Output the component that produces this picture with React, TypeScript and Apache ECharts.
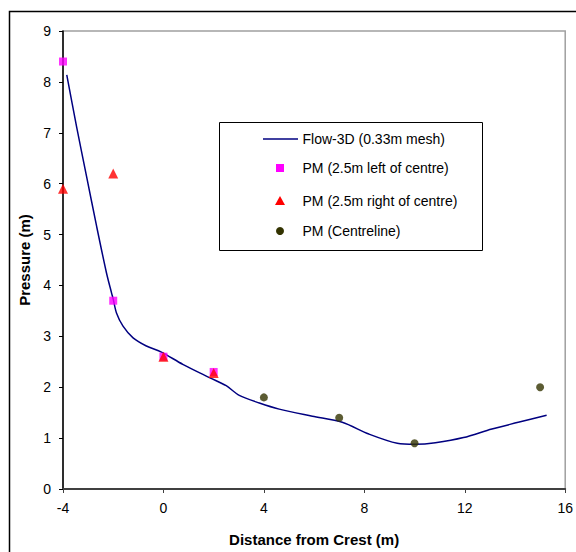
import React, { useEffect, useRef } from "react";
import * as echarts from "echarts";

const flowX = [-3.85, -3.46, -3.06, -2.66, -2.27, -2.07, -2.0, -1.87, -1.61, -1.21, -0.68, -0.08, 0.77, 1.83, 2.5, 3.02, 3.82, 4.61, 5.93, 7.12, 8.18, 9.31, 10.03, 10.83, 11.95, 13.08, 14.13, 15.26];
const flowY = [8.14, 7.12, 6.14, 5.16, 4.25, 3.86, 3.73, 3.46, 3.2, 2.97, 2.81, 2.69, 2.45, 2.19, 2.03, 1.84, 1.69, 1.57, 1.43, 1.31, 1.08, 0.9, 0.88, 0.91, 1.01, 1.18, 1.31, 1.45];

const leftX = [-4, -2, 0, 2];
const leftY = [8.4, 3.7, 2.6, 2.3];

const rightX = [-4, -2, 0, 2];
const rightY = [5.9, 6.2, 2.6, 2.28];

const centreX = [4, 7, 10, 15];
const centreY = [1.8, 1.4, 0.9, 2.0];

const seriesNames = [
  "Flow-3D (0.33m mesh)",
  "PM (2.5m left of centre)",
  "PM (2.5m right of centre)",
  "PM (Centreline)",
];

const xTicks = { min: -4, max: 16, interval: 4 };
const yTicks = { min: 0, max: 9, interval: 1 };

const FONT = 'Arial, "Liberation Sans", sans-serif';
const COLORS = ["#000080", "#ff00ff", "#ff0000", "#333300"];

const zip = (xs: number[], ys: number[]) => xs.map((x, i) => [x, ys[i]]);

export default function App() {
  const ref = useRef<HTMLDivElement>(null);
  useEffect(() => {
    if (!ref.current) return;
    const chart = echarts.init(ref.current, null, { renderer: "svg" });

    const lx = 280; // legend icon centre
    const tx = 302.5; // legend text left
    const rows = [139, 168, 201, 231];
    const textStyle = (t: string, y: number) => ({
      type: "text",
      z: 3,
      x: tx,
      y,
      style: {
        text: t,
        fontFamily: FONT,
        fontSize: 14,
        fill: "#000",
        verticalAlign: "middle",
        align: "left",
      },
      silent: true,
    });

    chart.setOption({
      animation: false,
      backgroundColor: "#fff",
      grid: {
        left: 63,
        top: 31,
        right: 9,
        bottom: 62,
        show: true,
        borderColor: "#a0a0a0",
        borderWidth: 1.5,
        backgroundColor: "transparent",
      },
      xAxis: {
        type: "value",
        min: xTicks.min,
        max: xTicks.max,
        interval: xTicks.interval,
        name: "Distance from Crest (m)",
        nameLocation: "middle",
        nameGap: 43,
        nameTextStyle: { fontFamily: FONT, fontSize: 15, fontWeight: "bold", color: "#000" },
        axisLine: { show: true, onZero: false, lineStyle: { color: "#404040", width: 2 } },
        axisTick: { show: true, length: 4, lineStyle: { color: "#404040", width: 1 } },
        axisLabel: { fontFamily: FONT, fontSize: 14, color: "#000", margin: 12 },
        splitLine: { show: false },
      },
      yAxis: {
        type: "value",
        min: yTicks.min,
        max: yTicks.max,
        interval: yTicks.interval,
        name: "Pressure (m)",
        nameLocation: "middle",
        nameGap: 30,
        nameRotate: 90,
        nameTextStyle: { fontFamily: FONT, fontSize: 15, fontWeight: "bold", color: "#000" },
        axisLine: { show: true, onZero: false, lineStyle: { color: "#000", width: 1.5 } },
        axisTick: { show: true, length: 4, lineStyle: { color: "#000", width: 1 } },
        axisLabel: { fontFamily: FONT, fontSize: 14, color: "#000", margin: 12 },
        splitLine: { show: false },
      },
      graphic: [
        {
          type: "rect",
          z: -1,
          shape: { x: 9.5, y: 11.5, width: 700, height: 700 },
          style: { fill: "none", stroke: "#000", lineWidth: 1.5 },
          silent: true,
        },
        {
          type: "rect",
          z: 1,
          shape: { x: 219.5, y: 122.5, width: 263, height: 128 },
          style: { fill: "#fff", stroke: "#000", lineWidth: 1 },
          silent: true,
        },
        {
          type: "line",
          z: 3,
          shape: { x1: 263, y1: rows[0], x2: 298, y2: rows[0] },
          style: { stroke: COLORS[0], lineWidth: 1.5 },
          silent: true,
        },
        {
          type: "rect",
          z: 3,
          shape: { x: lx - 4, y: rows[1] - 4, width: 8, height: 8 },
          style: { fill: COLORS[1] },
          silent: true,
        },
        {
          type: "polygon",
          z: 3,
          shape: { points: [[lx, rows[2] - 5], [lx + 5, rows[2] + 4], [lx - 5, rows[2] + 4]] },
          style: { fill: COLORS[2] },
          silent: true,
        },
        {
          type: "circle",
          z: 3,
          shape: { cx: lx, cy: rows[3], r: 4 },
          style: { fill: COLORS[3] },
          silent: true,
        },
        ...seriesNames.map((n, i) => textStyle(n, rows[i])),
      ],
      series: [
        {
          name: seriesNames[0],
          type: "line",
          data: zip(flowX, flowY),
          symbol: "none",
          smooth: 0.3,
          lineStyle: { color: COLORS[0], width: 1.5 },
          itemStyle: { color: COLORS[0] },
          z: 2,
        },
        {
          name: seriesNames[1],
          type: "scatter",
          data: zip(leftX, leftY),
          symbol: "rect",
          symbolSize: 8,
          itemStyle: { color: COLORS[1] },
          z: 3,
        },
        {
          name: seriesNames[2],
          type: "scatter",
          data: zip(rightX, rightY),
          symbol: "triangle",
          symbolSize: 10,
          itemStyle: { color: COLORS[2] },
          z: 4,
        },
        {
          name: seriesNames[3],
          type: "scatter",
          data: zip(centreX, centreY),
          symbol: "circle",
          symbolSize: 8,
          itemStyle: { color: COLORS[3] },
          z: 4,
        },
      ],
    });
    return () => chart.dispose();
  }, []);
  return <div ref={ref} style={{ width: 576, height: 552, position: "absolute", left: 0, top: 0 }} />;
}
